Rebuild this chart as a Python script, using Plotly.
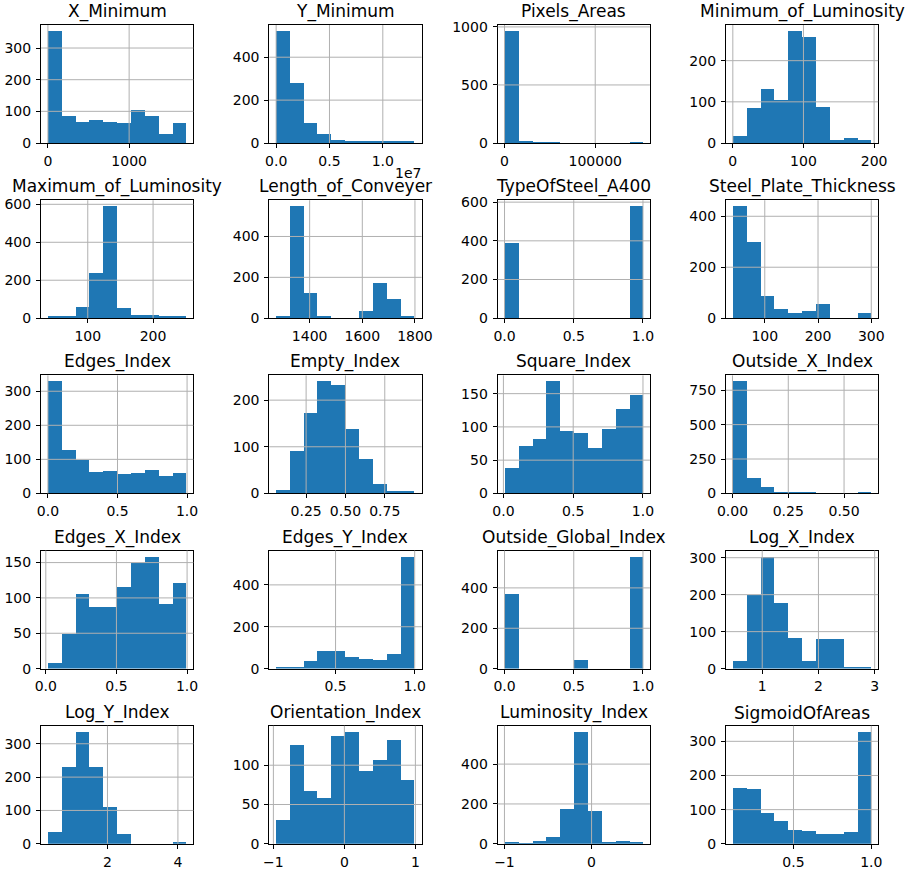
import numpy as np
import plotly.graph_objects as go

titles = ["X_Minimum", "Y_Minimum", "Pixels_Areas", "Minimum_of_Luminosity",
          "Maximum_of_Luminosity", "Length_of_Conveyer", "TypeOfSteel_A400", "Steel_Plate_Thickness",
          "Edges_Index", "Empty_Index", "Square_Index", "Outside_X_Index",
          "Edges_X_Index", "Edges_Y_Index", "Outside_Global_Index", "Log_X_Index",
          "Log_Y_Index", "Orientation_Index", "Luminosity_Index", "SigmoidOfAreas"]

# data range (min, max) of each column -> 10 equal bins
bin_lo = [0, 6712, 2, 0, 39, 1273, 0, 40, 0, 0.06, 0.008, 0.0015,
          0.015, 0.125, 0, 0.477, 0.31, -0.96, -0.999, 0.11]
bin_hi = [1705, 12987661, 152655, 196, 251, 1799, 1, 300, 0.995, 0.94, 1.0, 0.622,
          0.995, 1.0, 1, 2.94, 4.24, 0.99, 0.59, 1.0]

x_minimum = [355, 85, 65, 74, 65, 62, 103, 85, 27, 62]
y_minimum = [524, 282, 91, 44, 16, 11, 6, 6, 11, 6]
pixels_areas = [968, 20, 3, 1, 0, 0, 0, 0, 0, 1]
minimum_of_luminosity = [18, 84, 131, 104, 273, 258, 87, 8, 13, 8]
maximum_of_luminosity = [7, 7, 60, 235, 592, 55, 16, 16, 7, 7]
length_of_conveyer = [7, 550, 120, 7, 0, 0, 36, 170, 95, 7]
typeofsteel_a400 = [388, 0, 0, 0, 0, 0, 0, 0, 0, 581]
steel_plate_thickness = [441, 298, 88, 37, 20, 28, 53, 0, 0, 20]
edges_index = [330, 125, 98, 61, 66, 55, 58, 69, 51, 58]
empty_index = [7, 91, 171, 241, 232, 137, 72, 20, 3, 4]
square_index = [37, 70, 81, 169, 93, 90, 67, 96, 127, 148]
outside_x_index = [817, 108, 46, 4, 2, 1, 0, 0, 0, 1]
edges_x_index = [9, 50, 106, 88, 88, 116, 150, 159, 92, 121]
edges_y_index = [6, 11, 40, 88, 84, 55, 50, 45, 74, 537]
outside_global_index = [372, 0, 0, 0, 0, 47, 0, 0, 0, 557]
log_x_index = [23, 200, 304, 178, 85, 23, 80, 80, 4, 4]
log_y_index = [37, 231, 337, 231, 110, 31, 0, 0, 0, 4]
orientation_index = [31, 126, 68, 58, 138, 143, 93, 107, 132, 81]
luminosity_index = [7, 2, 17, 37, 174, 564, 164, 12, 17, 12]
sigmoidofareas = [163, 160, 90, 66, 42, 39, 30, 30, 36, 329]

counts = [x_minimum, y_minimum, pixels_areas, minimum_of_luminosity,
          maximum_of_luminosity, length_of_conveyer, typeofsteel_a400, steel_plate_thickness,
          edges_index, empty_index, square_index, outside_x_index,
          edges_x_index, edges_y_index, outside_global_index, log_x_index,
          log_y_index, orientation_index, luminosity_index, sigmoidofareas]

x_tickvals = [[0, 1000], [0, 5e6, 1e7], [0, 100000], [0, 100, 200],
              [100, 200], [1400, 1600, 1800], [0, 0.5, 1], [100, 200, 300],
              [0, 0.5, 1], [0.25, 0.5, 0.75], [0, 0.5, 1], [0, 0.25, 0.5],
              [0, 0.5, 1], [0.5, 1], [0, 0.5, 1], [1, 2, 3],
              [2, 4], [-1, 0, 1], [-1, 0], [0.5, 1]]
x_ticktext = [["0", "1000"], ["0.0", "0.5", "1.0"], ["0", "100000"], ["0", "100", "200"],
              ["100", "200"], ["1400", "1600", "1800"], ["0.0", "0.5", "1.0"], ["100", "200", "300"],
              ["0.0", "0.5", "1.0"], ["0.25", "0.50", "0.75"], ["0.0", "0.5", "1.0"], ["0.00", "0.25", "0.50"],
              ["0.0", "0.5", "1.0"], ["0.5", "1.0"], ["0.0", "0.5", "1.0"], ["1", "2", "3"],
              ["2", "4"], ["\u22121", "0", "1"], ["\u22121", "0"], ["0.5", "1.0"]]
y_tickvals = [[0, 100, 200, 300], [0, 200, 400], [0, 500, 1000], [0, 100, 200],
              [0, 200, 400, 600], [0, 200, 400], [0, 200, 400, 600], [0, 200, 400],
              [0, 100, 200, 300], [0, 100, 200], [0, 50, 100, 150], [0, 250, 500, 750],
              [0, 50, 100, 150], [0, 200, 400], [0, 200, 400], [0, 100, 200, 300],
              [0, 100, 200, 300], [0, 50, 100], [0, 200, 400], [0, 100, 200, 300]]

BLUE = "#1f77b4"
GRID = "#b0b0b0"
FONT = "DejaVu Sans"
W, H = 909, 870
left0, col_step, ax_w = 41.0, 228.3, 152.3
top0, row_step, ax_h = 25.0, 175.2, 118.0

fig = go.Figure()
shapes = []
annotations = []
for i, name in enumerate(titles):
    r, c = divmod(i, 4)
    n = i + 1
    xa = "xaxis" if n == 1 else f"xaxis{n}"
    ya = "yaxis" if n == 1 else f"yaxis{n}"
    xr = "x" if n == 1 else f"x{n}"
    yr = "y" if n == 1 else f"y{n}"
    lo, hi = bin_lo[i], bin_hi[i]
    edges = np.linspace(lo, hi, 11)
    centers = (edges[:-1] + edges[1:]) / 2
    bw = edges[1] - edges[0]
    fig.add_trace(go.Bar(x=centers, y=counts[i], width=bw, marker=dict(color=BLUE, line=dict(width=0)),
                         xaxis=xr, yaxis=yr, showlegend=False, hoverinfo="x+y"))
    span = hi - lo
    xrange = [lo - 0.05 * span, hi + 0.05 * span]
    yrange = [0, max(counts[i]) * 1.05]
    x0 = (left0 + c * col_step) / W
    x1 = (left0 + c * col_step + ax_w) / W
    ytop = top0 + r * row_step
    y1 = 1 - ytop / H
    y0 = 1 - (ytop + ax_h) / H
    common = dict(showline=True, linecolor="black", linewidth=1, mirror=True, showgrid=False,
                  ticks="outside", ticklen=4, tickwidth=1, tickcolor="black", zeroline=False,
                  automargin=False,
                  tickfont=dict(family=FONT, size=14, color="black"), fixedrange=True)
    fig.layout[xa] = dict(domain=[x0, x1], range=xrange, anchor=yr, tickmode="array",
                          tickvals=x_tickvals[i], ticktext=x_ticktext[i], ticklabelstandoff=1, **common)
    fig.layout[ya] = dict(domain=[y0, y1], range=yrange, anchor=xr, tickmode="array",
                          tickvals=y_tickvals[i], ticktext=[str(v) for v in y_tickvals[i]],
                          ticklabelstandoff=2, **common)
    for v in x_tickvals[i]:
        shapes.append(dict(type="line", xref=xr, yref=f"{yr} domain", x0=v, x1=v, y0=0, y1=1,
                           line=dict(color=GRID, width=1), layer="above"))
    for v in y_tickvals[i]:
        if v <= yrange[0]:
            continue
        shapes.append(dict(type="line", xref=f"{xr} domain", yref=yr, x0=0, x1=1, y0=v, y1=v,
                           line=dict(color=GRID, width=1), layer="above"))
    annotations.append(dict(text=name, x=(x0 + x1) / 2, y=y1, xref="paper", yref="paper",
                            xanchor="center", yanchor="bottom", yshift=1, showarrow=False,
                            font=dict(family=FONT, size=17, color="black")))

# scientific offset label of Y_Minimum x axis
annotations.append(dict(text="1e7", x=(left0 + col_step + ax_w) / W, y=1 - 173 / H, xref="paper", yref="paper",
                        xanchor="right", yanchor="middle", showarrow=False, borderpad=0,
                        font=dict(family=FONT, size=14, color="black")))

fig.update_layout(template="none", width=W, height=H, margin=dict(l=0, r=0, t=0, b=0, pad=0), autosize=False,
                  paper_bgcolor="white", plot_bgcolor="white", bargap=0,
                  shapes=shapes, annotations=annotations, font=dict(family=FONT))
fig.write_html("out.html", config={"displayModeBar": False},
               post_script="document.body.style.margin='0px';")
